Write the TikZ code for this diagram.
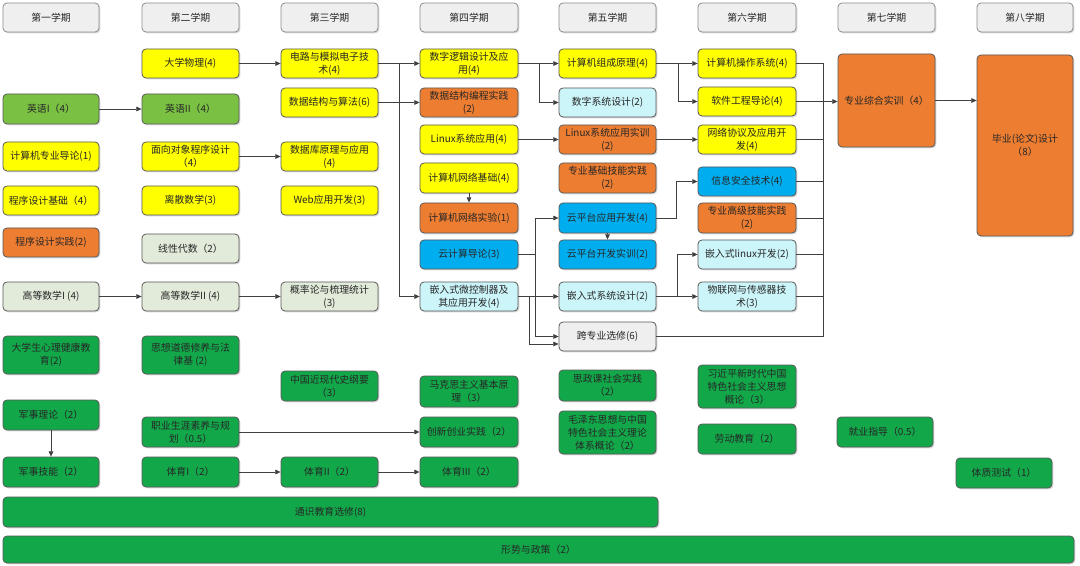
\documentclass[tikz,border=0pt]{standalone}
\usepackage{fontspec}
\setmainfont{Noto Sans CJK SC}
\usetikzlibrary{arrows.meta,shadows}
\definecolor{hdrc}{HTML}{EFEFEF}
\definecolor{yelc}{HTML}{FFFF00}
\definecolor{orgc}{HTML}{ED7D31}
\definecolor{lgc}{HTML}{7AC143}
\definecolor{palec}{HTML}{E2EBDA}
\definecolor{grnc}{HTML}{12A84A}
\definecolor{bluc}{HTML}{00AEEF}
\definecolor{cync}{HTML}{CCF5FA}
\definecolor{gryc}{HTML}{EFEFEF}
\tikzset{
  base/.style={rounded corners=3pt, draw=black!65, line width=0.6pt, inner sep=0pt,
    align=center, text=black!85, font=\fontsize{7.4}{9.8}\selectfont,
    drop shadow={shadow xshift=1pt, shadow yshift=-1pt, opacity=0.3}},
  hdr/.style={base, fill=hdrc, draw=black!45},
  yel/.style={base, fill=yelc},
  org/.style={base, fill=orgc},
  lg/.style={base, fill=lgc},
  pale/.style={base, fill=palec},
  grn/.style={base, fill=grnc},
  blu/.style={base, fill=bluc},
  cyn/.style={base, fill=cync},
  gry/.style={base, fill=gryc},
  conn/.style={draw=black!75, line width=0.55pt},
  arr/.style={conn, -{Triangle[length=4pt,width=3.5pt]}},
}
\newcommand\crs[7]{%
  \pgfmathsetmacro\cx{(#3+#5)/2}\pgfmathsetmacro\cy{(#4+#6)/2}%
  \pgfmathsetmacro\ww{(#5-#3)*0.75}\pgfmathsetmacro\hh{(#6-#4)*0.75}%
  \node[#2, minimum width=\ww pt, minimum height=\hh pt] (#1) at (\cx,\cy) {#7};}
\begin{document}
\begin{tikzpicture}[x=0.75pt,y=-0.75pt]
\useasboundingbox (0,0) rectangle (1080,566);
\fill[white] (0,0) rectangle (1080,566);
% headers
\crs{hd1}{hdr}{3}{3}{99}{32}{第一学期}
\crs{hd2}{hdr}{142}{3}{239}{32}{第二学期}
\crs{hd3}{hdr}{281}{3}{378}{32}{第三学期}
\crs{hd4}{hdr}{420}{3}{518}{32}{第四学期}
\crs{hd5}{hdr}{559}{3}{656}{32}{第五学期}
\crs{hd6}{hdr}{698}{3}{796}{32}{第六学期}
\crs{hd7}{hdr}{838}{3}{935}{32}{第七学期}
\crs{hd8}{hdr}{977}{3}{1073}{32}{第八学期}
% column 1
\crs{a1}{lg}{3}{94}{99}{124}{英语I（4）}
\crs{a2}{yel}{3}{142}{99}{171}{计算机专业导论(1)}
\crs{a3}{yel}{3}{186}{99}{215}{程序设计基础（4）}
\crs{a4}{org}{3}{228}{99}{257}{程序设计实践(2)}
\crs{a5}{pale}{3}{282}{99}{311}{高等数学I (4)}
\crs{a6}{grn}{3}{336}{99}{374}{大学生心理健康教\\育(2)}
\crs{a7}{grn}{3}{400}{99}{430}{军事理论（2）}
\crs{a8}{grn}{3}{457}{99}{487}{军事技能（2）}
% column 2
\crs{b1}{yel}{142}{49}{239}{78}{大学物理(4)}
\crs{b2}{lg}{142}{94}{239}{124}{英语II（4）}
\crs{b3}{yel}{142}{142}{239}{171}{面向对象程序设计\\（4）}
\crs{b4}{yel}{142}{186}{239}{215}{离散数学(3)}
\crs{b5}{pale}{142}{234}{239}{263}{线性代数（2）}
\crs{b6}{pale}{142}{282}{239}{311}{高等数学II (4)}
\crs{b7}{grn}{142}{336}{239}{374}{思想道德修养与法\\律基 (2)}
\crs{b8}{grn}{142}{417}{239}{447}{职业生涯素养与规\\划（0.5）}
\crs{b9}{grn}{142}{457}{239}{487}{体育I（2）}
% column 3
\crs{c1}{yel}{281}{49}{378}{78}{电路与模拟电子技\\术(4)}
\crs{c2}{yel}{281}{88}{378}{117}{数据结构与算法(6)}
\crs{c3}{yel}{281}{142}{378}{171}{数据库原理与应用\\(4)}
\crs{c4}{yel}{281}{186}{378}{215}{Web应用开发(3)}
\crs{c5}{pale}{281}{282}{378}{311}{概率论与梳理统计\\(3)}
\crs{c6}{grn}{281}{371}{378}{401}{中国近现代史纲要\\（3）}
\crs{c7}{grn}{281}{457}{378}{487}{体育II（2）}
% column 4
\crs{d1}{yel}{420}{49}{518}{78}{数字逻辑设计及应\\用(4)}
\crs{d2}{org}{420}{88}{518}{117}{数据结构编程实践\\(2)}
\crs{d3}{yel}{420}{125}{518}{154}{Linux系统应用(4)}
\crs{d4}{yel}{420}{163}{518}{193}{计算机网络基础(4)}
\crs{d5}{org}{420}{203}{518}{233}{计算机网络实验(1)}
\crs{d6}{blu}{420}{240}{518}{269}{云计算导论(3)}
\crs{d7}{cyn}{420}{282}{518}{311}{嵌入式微控制器及\\其应用开发(4)}
\crs{d8}{grn}{420}{376}{518}{407}{马克思主义基本原\\理（3）}
\crs{d9}{grn}{420}{417}{518}{447}{创新创业实践（2）}
\crs{d10}{grn}{420}{457}{518}{487}{体育III（2）}
% column 5
\crs{e1}{yel}{559}{49}{656}{78}{计算机组成原理(4)}
\crs{e2}{cyn}{559}{88}{656}{117}{数字系统设计(2)}
\crs{e3}{org}{559}{125}{656}{154}{Linux系统应用实训\\(2)}
\crs{e4}{org}{559}{163}{656}{193}{专业基础技能实践\\(2)}
\crs{e5}{blu}{559}{203}{656}{233}{云平台应用开发(4)}
\crs{e6}{blu}{559}{240}{656}{269}{云平台开发实训(2)}
\crs{e7}{cyn}{559}{282}{656}{311}{嵌入式系统设计(2)}
\crs{e8}{gry}{559}{322}{656}{351}{跨专业选修(6)}
\crs{e9}{grn}{559}{370}{656}{401}{思政课社会实践\\（2）}
\crs{e10}{grn}{559}{411}{656}{454}{毛泽东思想与中国\\特色社会主义理论\\体系概论（2）}
% column 6
\crs{f1}{yel}{698}{49}{796}{78}{计算机操作系统(4)}
\crs{f2}{yel}{698}{87}{796}{116}{软件工程导论(4)}
\crs{f3}{yel}{698}{125}{796}{154}{网络协议及应用开\\发(4)}
\crs{f4}{blu}{698}{167}{796}{196}{信息安全技术(4)}
\crs{f5}{org}{698}{203}{796}{233}{专业高级技能实践\\(2)}
\crs{f6}{cyn}{698}{240}{796}{269}{嵌入式linux开发(2)}
\crs{f7}{cyn}{698}{282}{796}{311}{物联网与传感器技\\术(3)}
\crs{f8}{grn}{698}{365}{796}{408}{习近平新时代中国\\特色社会主义思想\\概论（3）}
\crs{f9}{grn}{698}{424}{796}{454}{劳动教育（2）}
% column 7 and 8
\crs{g1}{org}{838}{54}{935}{147}{专业综合实训（4）}
\crs{g2}{grn}{837}{417}{933}{447}{就业指导（0.5）}
\crs{k1}{org}{977}{55}{1073}{236}{毕业(论文)设计\\（8）}
\crs{k2}{grn}{956}{458}{1052}{488}{体质测试（1）}
% bottom
\crs{t1}{grn}{3}{497}{658}{527}{通识教育选修(8)}
\crs{t2}{grn}{3}{536}{1074}{563}{形势与政策（2）}
% connectors
\draw[arr] (a1.east) -- (b2.west);
\draw[arr] (b1.east) -- (c1.west);
\draw[arr] (b3.east) -- (c3.west);
\draw[arr] (a5.east) -- (b6.west);
\draw[arr] (b6.east) -- (c5.west);
\draw[arr] (a7.south) -- (a8.north);
\draw[arr] (b8.east) -- (d9.west);
\draw[arr] (b9.east) -- (c7.west);
\draw[arr] (c7.east) -- (d10.west);
\draw[arr] (c1.east) -- (d1.west);
\draw[arr] (c2.east) -- (d2.west);
\draw[arr] (c1.east) -- ++(21,0) |- (d7.west);
\draw[arr] (d1.east) -- (e1.west);
\draw[arr] (d1.east) -- ++(21,0) |- (e2.west);
\draw[arr] (d3.east) -- (e3.west);
\draw[arr] (d4.south) -- (d5.north);
\draw[arr] (d6.east) -- ++(17,0) |- (e5.west);
\draw[arr] (d6.east) -- ++(17,0) |- (e8.west);
\draw[arr] (d7.east) -- (e7.west);
\draw[arr] (d7.east) -- ++(11,0) |- ([yshift=-5.6pt]e8.west);
\draw[arr] (e5.south) -- (e6.north);
\draw[arr] (e1.east) -- (f1.west);
\draw[arr] (e1.east) -- ++(22,0) |- (f2.west);
\draw[arr] (e3.east) -- (f3.west);
\draw[arr] (e5.east) -- ++(20,0) |- (f4.west);
\draw[arr] (e7.east) -- ++(21,0) |- (f6.west);
\draw[arr] (e7.east) -- (f7.west);
% collector
\coordinate (bt) at (823,63.5);
\coordinate (bb) at (823,336.5);
\draw[conn] (bt) -- (bb);
\foreach \n in {f1,f3,f4,f5,f6,f7,e8} \draw[conn] (\n.east) -- (\n.east -| bt);
\draw[arr] (f2.east) -- (f2.east -| g1.west);
\draw[arr] (g1.east) -- (g1.east -| k1.west);
\end{tikzpicture}
\end{document}
